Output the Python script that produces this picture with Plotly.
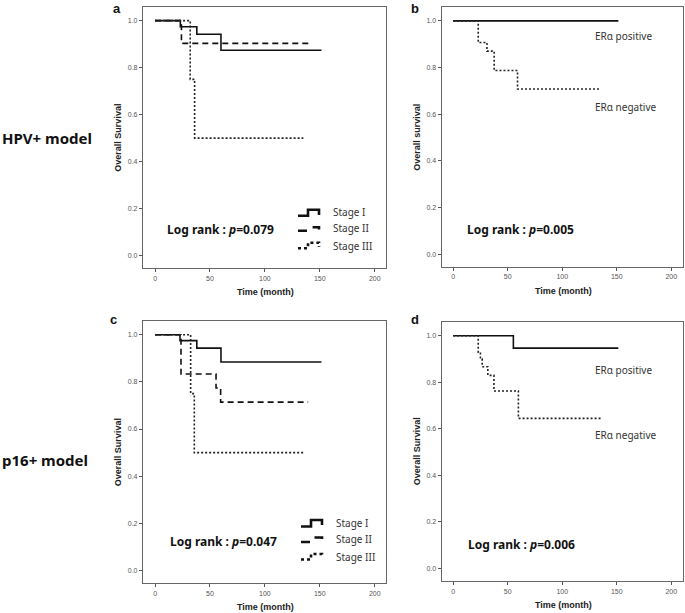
import plotly.graph_objects as go

W, H = 685, 613

# ---------------- data ----------------
# Panel a (HPV+ model, stage)
a_stage1_t = [0, 23, 38, 60, 151.5]
a_stage1_s = [1.0, 0.974, 0.942, 0.874, 0.874]
a_stage2_t = [0, 24, 140]
a_stage2_s = [1.0, 0.903, 0.903]
a_stage3_t = [0, 32, 36, 135]
a_stage3_s = [1.0, 0.75, 0.5, 0.5]

# Panel b (HPV+ model, ERa)
b_pos_t = [0, 151.5]
b_pos_s = [1.0, 1.0]
b_neg_t = [0, 23, 31, 37.6, 59, 134.6]
b_neg_s = [1.0, 0.907, 0.87, 0.787, 0.708, 0.708]

# Panel c (p16+ model, stage)
c_stage1_t = [0, 22.7, 38, 60, 151.5]
c_stage1_s = [1.0, 0.975, 0.943, 0.884, 0.884]
c_stage2_t = [0, 23.6, 55.5, 59.7, 139.4]
c_stage2_s = [1.0, 0.833, 0.774, 0.714, 0.714]
c_stage3_t = [0, 32.4, 35.7, 135.5]
c_stage3_s = [1.0, 0.75, 0.5, 0.5]

# Panel d (p16+ model, ERa)
d_pos_t = [0, 55.2, 151.4]
d_pos_s = [1.0, 0.947, 0.947]
d_neg_t = [0, 23, 25, 26.6, 31.8, 37.4, 59.8, 135.5]
d_neg_s = [1.0, 0.93, 0.9, 0.867, 0.83, 0.763, 0.645, 0.645]

x_ticks = [0, 50, 100, 150, 200]
y_ticks = [0.0, 0.2, 0.4, 0.6, 0.8, 1.0]
stage_labels = ["Stage I", "Stage II", "Stage III"]
pvals = ["0.079", "0.005", "0.047", "0.006"]

# ---------------- layout helpers ----------------
def px(x):
    return x / W

def py(y):
    return 1 - y / H

panels = {
    # name: (xaxis, yaxis, left, right, top, bottom, letter_x, letter_y) in pixels
    "a": ("x", "y", 143, 385.7, 7, 268.3, 116.5, 8),
    "b": ("x2", "y2", 441.7, 683.3, 7.3, 266.7, 415, 8),
    "c": ("x3", "y3", 143, 385.7, 321, 583.3, 113.5, 319),
    "d": ("x4", "y4", 441.7, 683.3, 322.3, 581, 415, 319),
}

fig = go.Figure()

solid = dict(color="#111111", width=1.6)
dashed = dict(color="#111111", width=1.6, dash="6px,4px")
dotted = dict(color="#222222", width=1.6, dash="2px,2px")

def step(t, s, xa, ya, line, name):
    fig.add_trace(go.Scatter(x=t, y=s, mode="lines", line_shape="hv",
                             line=line, xaxis=xa, yaxis=ya, name=name,
                             showlegend=False, hoverinfo="x+y"))

step(a_stage1_t, a_stage1_s, "x", "y", solid, "Stage I")
step(a_stage2_t, a_stage2_s, "x", "y", dashed, "Stage II")
step(a_stage3_t, a_stage3_s, "x", "y", dotted, "Stage III")
step(b_pos_t, b_pos_s, "x2", "y2", solid, "ERα positive")
step(b_neg_t, b_neg_s, "x2", "y2", dotted, "ERα negative")
step(c_stage1_t, c_stage1_s, "x3", "y3", solid, "Stage I")
step(c_stage2_t, c_stage2_s, "x3", "y3", dashed, "Stage II")
step(c_stage3_t, c_stage3_s, "x3", "y3", dotted, "Stage III")
step(d_pos_t, d_pos_s, "x4", "y4", solid, "ERα positive")
step(d_neg_t, d_neg_s, "x4", "y4", dotted, "ERα negative")

tickfont = dict(family="Arial, Liberation Sans", size=7, color="#555555")
layout = dict(width=W, height=H, margin=dict(l=0, r=0, t=0, b=0),
              paper_bgcolor="white", plot_bgcolor="white", showlegend=False)

ann = []
shapes = []

def text(t, x, y, size, family="Noto Sans", color="#111", xanchor="center",
         angle=0):
    ann.append(dict(text=t, x=px(x), y=py(y), xref="paper", yref="paper",
                    xanchor=xanchor, yanchor="middle", showarrow=False,
                    textangle=angle, borderpad=0,
                    font=dict(family=family, size=size, color=color)))

for name, (xa, ya, L, R, T, B, lx, ly) in panels.items():
    xkey = "xaxis" + ("" if xa == "x" else xa[1:])
    ykey = "yaxis" + ("" if ya == "y" else ya[1:])
    xr = [-11, 210] if name in ("a", "c") else [-10.5, 211]
    layout[xkey] = dict(domain=[px(L), px(R)], range=xr, anchor=ya,
                        tickvals=x_ticks, ticks="outside", ticklen=3,
                        tickcolor="#555", showline=True, linecolor="#666",
                        linewidth=1.2, mirror=True, showgrid=False,
                        zeroline=False, tickfont=tickfont)
    layout[ykey] = dict(domain=[py(B), py(T)], range=[-0.054, 1.058], anchor=xa,
                        tickvals=y_ticks, tickformat=".1f", ticks="outside",
                        ticklen=3, tickcolor="#555", showline=True,
                        linecolor="#666", linewidth=1.2, mirror=True,
                        showgrid=False, zeroline=False, tickfont=tickfont)
    # axis titles
    text("<b>Time (month)</b>", (L + R) / 2 + 1, B + 24, 9,
         family="Arial, Liberation Sans", color="#222")
    ytitle = "Overall survival" if name == "b" else "Overall Survival"
    text("<b>" + ytitle + "</b>", L - 25, (T + B) / 2, 9,
         family="Arial, Liberation Sans", color="#222", angle=-90)
    # panel letter
    text("<b>" + name + "</b>", lx, ly, 13, family="Arial, Liberation Sans")

# log rank texts
lr_pos = [(165.7, 230), (466, 230), (169, 541), (466.7, 544.3)]
for (x, y), p in zip(lr_pos, pvals):
    text("<b>Log rank : <i>p</i>=" + p + "</b>", x, y, 12, xanchor="left")

# ER labels
er_pos = [(594, 36, "ERα positive"), (594, 106.7, "ERα negative"),
          (594, 370, "ERα positive"), (594, 435, "ERα negative")]
for x, y, t in er_pos:
    text(t, x, y, 10, color="#333", xanchor="left")

# row labels
for y, t in [(137.5, "HPV+ model"), (460, "p16+ model")]:
    text("<b>" + t + "</b>", 1, y, 15, xanchor="left")

# custom stage legends (step-shaped keys)
def legend(x0, yrows):
    styles = ["solid", "dash", "dot"]
    for (ybot, ytop, yend, ytext), lab, ds in zip(yrows, stage_labels, styles):
        path = "M {} {} L {} {} L {} {} L {} {} L {} {}".format(
            px(x0), py(ybot), px(x0 + 10), py(ybot), px(x0 + 10), py(ytop),
            px(x0 + 21), py(ytop), px(x0 + 21), py(yend))
        shapes.append(dict(type="path", path=path, xref="paper", yref="paper",
                           line=dict(color="#111", width=2.6, dash=ds)))
        text(lab, x0 + 34, ytext, 10, color="#333", xanchor="left")

legend(298, [(215.7, 209.8, 215, 211.7), (230.7, 227.3, 229.5, 228.3),
             (248.3, 242.7, 246.7, 246)])
legend(301, [(526.5, 520, 525, 523), (542, 537.5, 540, 539),
              (559.5, 554, 557.5, 556.7)])

layout["annotations"] = ann
layout["shapes"] = shapes
fig.update_layout(**layout)
fig.write_html("out.html", config={"displayModeBar": False},
               post_script="document.body.style.margin='0';document.body.style.overflow='hidden';")
